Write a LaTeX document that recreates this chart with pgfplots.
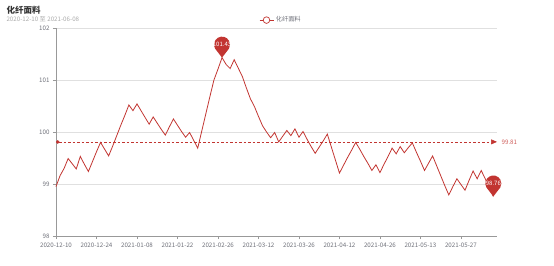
\documentclass[border=0pt]{standalone}
\usepackage{pgfplots}
\pgfplotsset{compat=1.18}
\usepackage{pgfplotstable}
\usepackage{fontspec}
\setmainfont{Noto Sans CJK SC}
\usetikzlibrary{arrows.meta}
\definecolor{lc}{HTML}{C23531}
\definecolor{axc}{HTML}{999999}
\definecolor{tlc}{HTML}{6E7079}
\definecolor{gridc}{HTML}{E0E0E0}
\definecolor{titlec}{HTML}{333333}
\definecolor{subc}{HTML}{AAAAAA}

\pgfdeclareplotmark{pin}{%
  \pgfpathmoveto{\pgfpointorigin}%
  \pgfpathlineto{\pgfpoint{-6.93pt}{9pt}}%
  \pgfpatharc{210}{-30}{8pt}%
  \pgfpathclose
  \pgfusepathqfill}

\pgfplotstableread{
x y
0 98.95
1 99.16
2 99.30
3 99.49
4 99.39
5 99.29
6 99.53
7 99.38
8 99.24
9 99.43
10 99.62
11 99.80
12 99.67
13 99.54
14 99.73
15 99.93
16 100.13
17 100.32
18 100.52
19 100.41
20 100.54
21 100.41
22 100.28
23 100.15
24 100.29
25 100.17
26 100.05
27 99.94
28 100.10
29 100.25
30 100.13
31 100.01
32 99.90
33 99.99
34 99.84
35 99.69
36 100.02
37 100.35
38 100.68
39 101.00
40 101.21
41 101.43
42 101.30
43 101.22
44 101.39
45 101.23
46 101.07
47 100.85
48 100.64
49 100.49
50 100.30
51 100.12
52 100.00
53 99.89
54 99.99
55 99.81
56 99.92
57 100.03
58 99.93
59 100.06
60 99.90
61 100.01
62 99.86
63 99.72
64 99.59
65 99.71
66 99.83
67 99.96
68 99.71
69 99.46
70 99.21
71 99.36
72 99.51
73 99.65
74 99.80
75 99.67
76 99.53
77 99.40
78 99.26
79 99.37
80 99.22
81 99.38
82 99.53
83 99.69
84 99.58
85 99.72
86 99.60
87 99.70
88 99.79
89 99.61
90 99.44
91 99.26
92 99.40
93 99.54
94 99.35
95 99.16
96 98.97
97 98.79
98 98.95
99 99.10
100 98.99
101 98.88
102 99.07
103 99.25
104 99.10
105 99.26
106 99.10
107 98.93
108 98.76
}\data

\begin{document}
\begin{tikzpicture}
\useasboundingbox (-56pt,-29pt) rectangle (498pt,236pt);
\begin{axis}[
  at={(0pt,0pt)}, anchor=south west,
  scale only axis, width=441pt, height=208pt,
  xmin=0, xmax=108.9, ymin=98, ymax=102,
  axis lines=left,
  axis line style={-, color=axc, line width=0.7pt},
  xtick={0,10,...,100},
  xticklabels={2020-12-10,2020-12-24,2021-01-08,2021-01-22,2021-02-26,2021-03-12,2021-03-26,2021-04-12,2021-04-26,2021-05-13,2021-05-27},
  ytick={98,99,100,101,102},
  yticklabels={98,99,100,101,102},
  ymajorgrids,
  grid style={color=gridc, line width=0.6pt},
  tick align=outside,
  major tick length=3pt,
  tick style={color=axc, line width=0.6pt},
  ticklabel style={font=\fontsize{6.2}{7}\selectfont, text=tlc},
  /pgf/number format/assume math mode=true,
  clip=false,
  legend style={at={(0.51,1.038)}, anchor=center, draw=none, fill=none,
    font=\fontsize{6.2}{7}\selectfont, text=tlc, inner sep=0pt},
]
\addplot[color=lc, line width=0.8pt, mark=none,
  legend image code/.code={%
    \draw[lc, line width=0.7pt] (0pt,0pt) -- (14pt,0pt);
    \draw[lc, fill=white, line width=0.7pt] (7pt,0pt) circle (3.3pt);}]
  table[x=x, y=y]{\data};
\addlegendentry{化纤面料}
\addplot[color=lc, line width=0.6pt, dash pattern=on 2.5pt off 2pt,
  {Circle[length=3.5pt]}-{Triangle[length=6pt, width=5pt]}, forget plot]
  coordinates {(0,99.81) (108.9,99.81)}
  node[pos=1, anchor=west, text=lc!80, font=\fontsize{6.2}{7}\selectfont, xshift=1pt] {99.81};
\addplot[only marks, mark=pin, color=lc, forget plot,
  point meta=explicit symbolic,
  nodes near coords,
  every node near coord/.append style={anchor=center, yshift=13pt, inner sep=0pt,
    text=white, font=\fontsize{6}{7}\selectfont}]
  coordinates {(41,101.43) [101.43] (108,98.76) [98.76]};
\end{axis}
\node[anchor=west, font=\bfseries\fontsize{8.5}{10}\selectfont, text=titlec] at (-53pt,226pt) {化纤面料};
\node[anchor=west, font=\fontsize{6.2}{7}\selectfont, text=subc] at (-53pt,217pt) {2020-12-10 至 2021-06-08};
\end{tikzpicture}
\end{document}
